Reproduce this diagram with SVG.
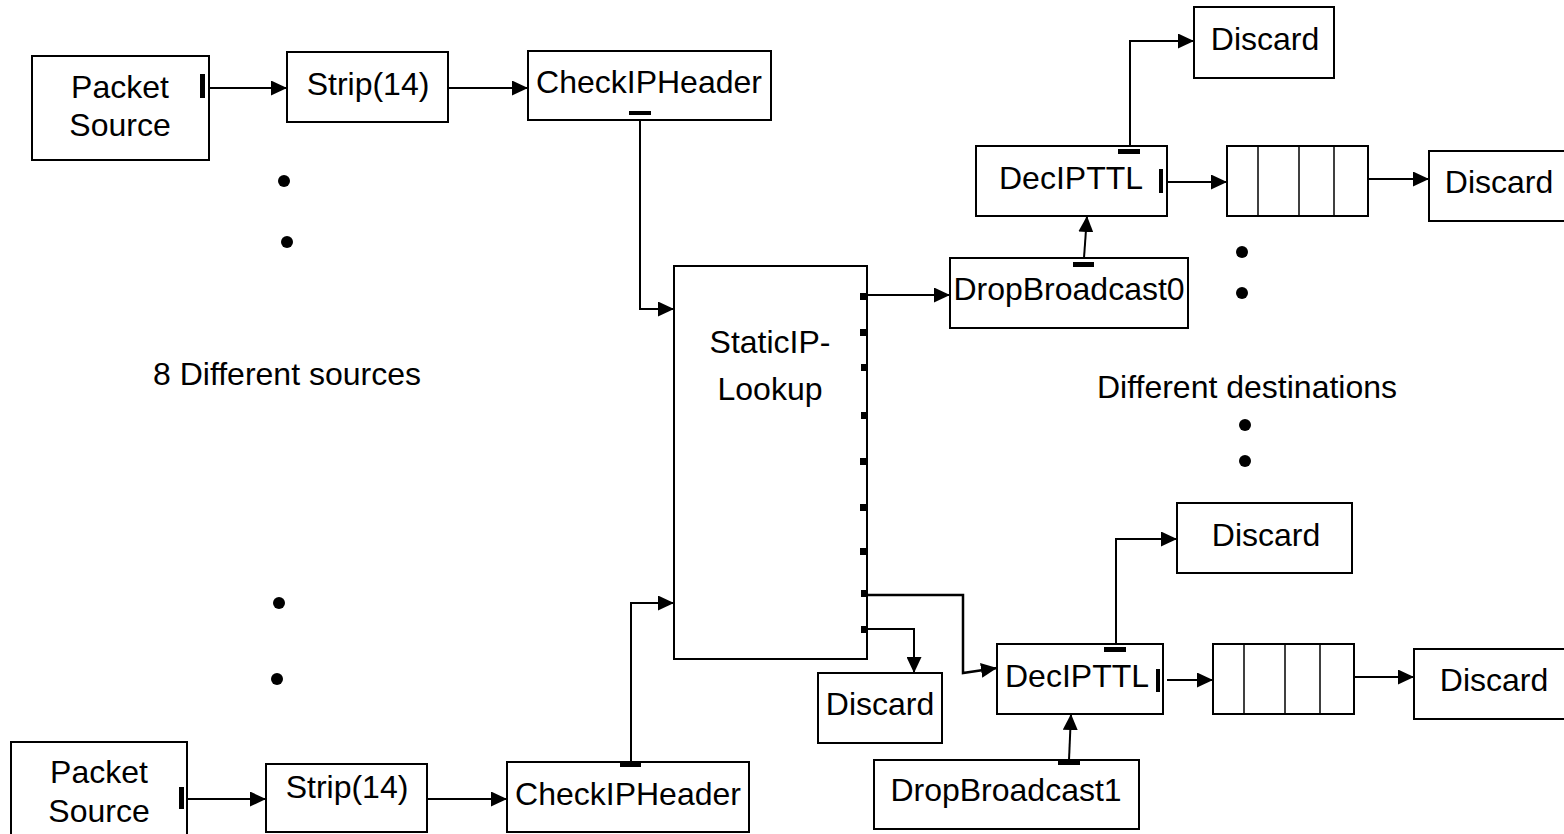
<svg xmlns="http://www.w3.org/2000/svg" width="1564" height="834" viewBox="0 0 1564 834">
<defs>
<style>
.box{fill:#fff;stroke:#000;stroke-width:2}
.t{font-family:"Liberation Sans",Arial,sans-serif;font-size:32px;fill:#000;text-anchor:middle}
.c{fill:none;stroke:#000;stroke-width:2;marker-end:url(#ah)}
.port{fill:#000}
.div{stroke:#000;stroke-width:1.5}
.dot{fill:#000}
</style>
<marker id="ah" markerUnits="userSpaceOnUse" markerWidth="16" markerHeight="15" refX="16" refY="7.5" orient="auto">
<path d="M0,0 L16,7.5 L0,15 Z" fill="#000"/>
</marker>
</defs>
<rect width="1564" height="834" fill="#fff"/>

<g id="connectors">
<line class="c" x1="209" y1="88" x2="287" y2="88"/>
<line class="c" x1="448" y1="88" x2="528" y2="88"/>
<path class="c" d="M640,115 V309 H674"/>
<line class="c" x1="867" y1="295" x2="950" y2="295"/>
<line class="c" x1="1084" y1="258" x2="1087" y2="216"/>
<path class="c" d="M1130,149 V41 H1194"/>
<line class="c" x1="1167" y1="182" x2="1227" y2="182"/>
<line class="c" x1="1364" y1="179" x2="1429" y2="179"/>
<line class="c" x1="187" y1="799" x2="266" y2="799"/>
<line class="c" x1="427" y1="799" x2="507" y2="799"/>
<path class="c" d="M631,763 V603 H674"/>
<path class="c" style="stroke-width:2.5" d="M867,595 H963 V673 L997,668"/>
<path class="c" d="M867,629 H914 V673"/>
<line class="c" x1="1069" y1="760" x2="1071" y2="714"/>
<path class="c" d="M1116,647 V539 H1177"/>
<line class="c" x1="1167" y1="680" x2="1213" y2="680"/>
<line class="c" x1="1351" y1="677" x2="1414" y2="677"/>
</g>

<g id="packetsource1">
<rect class="box" x="32" y="56" width="177" height="104"/>
<text class="t" x="120" y="98">Packet</text>
<text class="t" x="120" y="136">Source</text>
<rect class="port" x="200" y="74" width="5" height="24"/>
</g>
<g id="strip1">
<rect class="box" x="287" y="52" width="161" height="70"/>
<text class="t" x="368" y="95">Strip(14)</text>
</g>
<g id="checkipheader1">
<rect class="box" x="528" y="51" width="243" height="69"/>
<text class="t" x="649" y="93">CheckIPHeader</text>
<rect class="port" x="629" y="111" width="22" height="4"/>
</g>

<g id="packetsource2">
<rect class="box" x="11" y="742" width="176" height="100"/>
<text class="t" x="99" y="783">Packet</text>
<text class="t" x="99" y="822">Source</text>
<rect class="port" x="179" y="787" width="5" height="22"/>
</g>
<g id="strip2">
<rect class="box" x="266" y="764" width="161" height="68"/>
<text class="t" x="347" y="798">Strip(14)</text>
</g>
<g id="checkipheader2">
<rect class="box" x="507" y="762" width="242" height="70"/>
<text class="t" x="628" y="805">CheckIPHeader</text>
<rect class="port" x="620" y="763" width="21" height="4"/>
</g>

<g id="staticiplookup">
<rect class="box" x="674" y="266" width="193" height="393"/>
<text class="t" x="770" y="353">StaticIP-</text>
<text class="t" x="770" y="400">Lookup</text>
<rect class="port" x="860" y="293" width="7" height="7"/>
<rect class="port" x="860" y="329" width="7" height="7"/>
<rect class="port" x="861" y="364" width="6" height="7"/>
<rect class="port" x="861" y="412" width="6" height="7"/>
<rect class="port" x="860" y="458" width="7" height="7"/>
<rect class="port" x="860" y="504" width="7" height="7"/>
<rect class="port" x="860" y="548" width="7" height="7"/>
<rect class="port" x="861" y="590" width="6" height="7"/>
<rect class="port" x="861" y="626" width="6" height="7"/>
</g>

<g id="dropbroadcast0">
<rect class="box" x="950" y="258" width="238" height="70"/>
<text class="t" x="1069" y="300">DropBroadcast0</text>
<rect class="port" x="1073" y="262" width="21" height="5"/>
</g>
<g id="decipttl0">
<rect class="box" x="976" y="146" width="191" height="70"/>
<text class="t" x="1071" y="189">DecIPTTL</text>
<rect class="port" x="1118" y="149" width="22" height="5"/>
<rect class="port" x="1159" y="169" width="4" height="24"/>
</g>
<g id="discard0a">
<rect class="box" x="1194" y="7" width="140" height="71"/>
<text class="t" x="1265" y="50">Discard</text>
</g>
<g id="queue0">
<rect class="box" x="1227" y="146" width="141" height="70"/>
<line class="div" x1="1258" y1="146" x2="1258" y2="216"/>
<line class="div" x1="1299" y1="146" x2="1299" y2="216"/>
<line class="div" x1="1334" y1="146" x2="1334" y2="216" stroke="#555"/>
</g>
<g id="discard0b">
<rect class="box" x="1429" y="151" width="145" height="70"/>
<text class="t" x="1499" y="193">Discard</text>
</g>

<g id="discard_lookup">
<rect class="box" x="818" y="673" width="124" height="70"/>
<text class="t" x="880" y="715">Discard</text>
</g>
<g id="dropbroadcast1">
<rect class="box" x="874" y="760" width="265" height="69"/>
<text class="t" x="1006" y="801">DropBroadcast1</text>
<rect class="port" x="1058" y="760" width="22" height="5"/>
</g>
<g id="decipttl1">
<rect class="box" x="997" y="644" width="166" height="70"/>
<text class="t" x="1077" y="687">DecIPTTL</text>
<rect class="port" x="1104" y="647" width="22" height="5"/>
<rect class="port" x="1156" y="669" width="4" height="23"/>
</g>
<g id="discard1a">
<rect class="box" x="1177" y="503" width="175" height="70"/>
<text class="t" x="1266" y="546">Discard</text>
</g>
<g id="queue1">
<rect class="box" x="1213" y="644" width="141" height="70"/>
<line class="div" x1="1244" y1="644" x2="1244" y2="714"/>
<line class="div" x1="1285" y1="644" x2="1285" y2="714"/>
<line class="div" x1="1320" y1="644" x2="1320" y2="714" stroke="#555"/>
</g>
<g id="discard1b">
<rect class="box" x="1414" y="649" width="160" height="70"/>
<text class="t" x="1494" y="691">Discard</text>
</g>

<g id="labels">
<text class="t" x="287" y="385">8 Different sources</text>
<text class="t" x="1247" y="398">Different destinations</text>
<circle class="dot" cx="284" cy="181" r="6"/>
<circle class="dot" cx="287" cy="242" r="6"/>
<circle class="dot" cx="279" cy="603" r="6"/>
<circle class="dot" cx="277" cy="679" r="6"/>
<circle class="dot" cx="1242" cy="252" r="6"/>
<circle class="dot" cx="1242" cy="293" r="6"/>
<circle class="dot" cx="1245" cy="425" r="6"/>
<circle class="dot" cx="1245" cy="461" r="6"/>
</g>
</svg>
